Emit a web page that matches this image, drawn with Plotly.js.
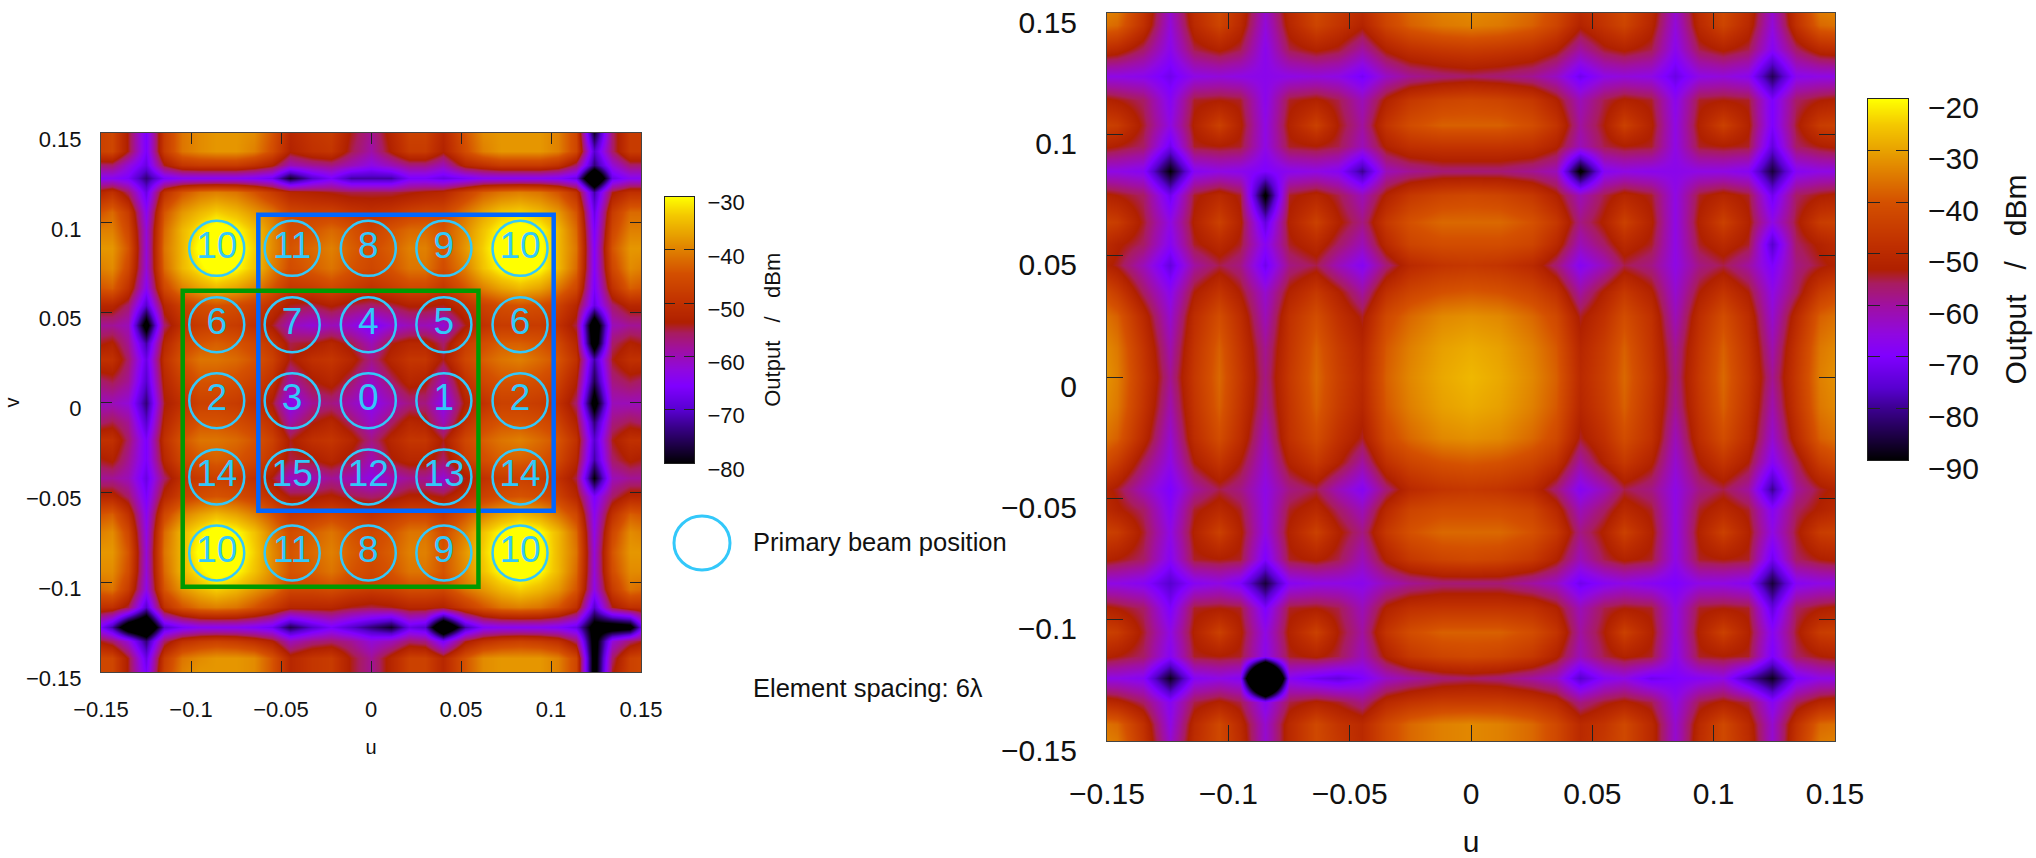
<!DOCTYPE html>
<html><head><meta charset="utf-8">
<script src="https://cdn.plot.ly/plotly-3.0.1.min.js"></script>
<style>html,body{margin:0;padding:0;background:#fff}#c{width:2036px;height:858px}</style>
</head><body><div id="c"></div>
<script>
const leftU=[-.15,-.144,-.135,-.125,-.115,-.105,-.095,-.086,-.075,-.065,-.055,-.045,-.033,-.022,-.011,0,.011,.021,.03,.04,.052,.062,.072,.083,.094,.104,.114,.124,.134,.144,.15];
const leftV=[.15,.14,.132,.125,.117,.106,.096,.086,.075,.064,.054,.043,.033,.024,.012,0,-.011,-.021,-.032,-.042,-.052,-.062,-.072,-.083,-.094,-.104,-.114,-.125,-.133,-.142,-.15];
const leftZ=[
[-47,-46,-54,-66,-48,-41,-39,-38,-38,-39,-44,-52,-49,-48,-54,-58,-52,-47,-47,-52,-44,-39,-38,-38,-38,-40,-46,-78,-56,-48,-48],
[-47,-46,-54,-66,-48,-41,-39,-38,-38,-40,-45,-53,-50,-49,-55,-59,-53,-48,-48,-53,-45,-40,-38,-38,-38,-40,-46,-70,-56,-48,-48],
[-56,-56,-62,-68,-54,-49,-48,-48,-48,-50,-53,-60,-58,-57,-60,-63,-60,-57,-57,-60,-52,-50,-48,-48,-48,-50,-56,-74,-62,-56,-56],
[-64,-64,-66,-74,-66,-64,-64,-64,-64,-65,-67,-78,-70,-66,-72,-72,-72,-66,-66,-68,-66,-64,-64,-64,-64,-65,-68,-95,-68,-64,-64],
[-52,-50,-56,-68,-50,-44,-41,-40,-41,-44,-48,-52,-53,-54,-55,-55,-55,-54,-53,-52,-47,-43,-41,-40,-41,-44,-50,-72,-54,-50,-50],
[-44,-42,-48,-64,-44,-38,-35,-33,-35,-38,-41,-46,-47,-47,-49,-50,-49,-47,-46,-46,-41,-37,-34,-33,-35,-38,-44,-68,-48,-42,-42],
[-40,-40,-46,-62,-42,-35,-31,-28,-30,-34,-39,-45,-44,-42,-44,-47,-44,-42,-42,-44,-39,-34,-30,-28,-30,-35,-42,-66,-46,-40,-40],
[-38,-38,-44,-62,-41,-35,-29,-26,-28,-33,-39,-44,-42,-40,-43,-45,-43,-40,-40,-44,-38,-33,-28,-26,-29,-35,-41,-65,-44,-38,-38],
[-40,-39,-46,-62,-42,-35,-31,-28,-30,-34,-40,-45,-43,-41,-44,-46,-44,-41,-41,-45,-40,-34,-30,-28,-30,-35,-42,-65,-46,-39,-40],
[-44,-43,-50,-64,-46,-40,-37,-35,-37,-40,-44,-49,-48,-46,-48,-50,-48,-46,-46,-49,-44,-40,-37,-35,-37,-41,-46,-66,-50,-43,-44],
[-52,-52,-56,-70,-52,-47,-45,-44,-45,-47,-50,-54,-55,-53,-55,-56,-55,-53,-53,-54,-50,-47,-45,-44,-45,-47,-52,-68,-56,-52,-52],
[-58,-58,-60,-84,-56,-50,-48,-47,-48,-50,-54,-60,-62,-60,-62,-66,-62,-60,-60,-62,-54,-50,-48,-48,-48,-50,-55,-88,-60,-58,-58],
[-54,-53,-58,-72,-52,-46,-44,-43,-44,-46,-49,-55,-54,-52,-55,-60,-54,-52,-52,-56,-48,-45,-43,-43,-44,-46,-52,-86,-56,-53,-54],
[-50,-50,-56,-68,-50,-44,-41,-41,-42,-44,-47,-54,-50,-49,-52,-57,-52,-49,-49,-54,-46,-43,-41,-40,-42,-44,-50,-72,-54,-50,-50],
[-56,-55,-58,-70,-52,-47,-44,-44,-45,-47,-50,-59,-54,-52,-56,-61,-56,-52,-53,-60,-50,-46,-44,-44,-45,-47,-53,-76,-57,-55,-56],
[-60,-60,-62,-74,-54,-50,-47,-47,-48,-50,-54,-64,-58,-57,-60,-64,-60,-57,-57,-64,-53,-50,-47,-47,-48,-50,-56,-84,-60,-60,-60],
[-56,-55,-58,-70,-52,-47,-44,-44,-45,-47,-50,-59,-54,-52,-56,-61,-56,-52,-53,-60,-50,-46,-44,-44,-45,-47,-53,-74,-57,-55,-56],
[-50,-50,-56,-66,-50,-44,-41,-41,-42,-44,-47,-54,-50,-49,-52,-57,-52,-49,-49,-54,-46,-43,-41,-40,-42,-44,-50,-70,-54,-50,-50],
[-54,-53,-58,-66,-52,-46,-44,-43,-44,-46,-49,-55,-54,-52,-55,-60,-54,-52,-52,-56,-48,-45,-43,-43,-44,-46,-52,-72,-56,-53,-54],
[-58,-58,-60,-68,-56,-50,-48,-47,-48,-50,-54,-61,-60,-58,-60,-63,-60,-58,-58,-62,-54,-50,-48,-47,-48,-50,-55,-80,-60,-58,-58],
[-52,-52,-56,-66,-52,-47,-45,-44,-45,-47,-50,-54,-54,-53,-55,-56,-55,-53,-53,-54,-50,-47,-45,-44,-45,-47,-52,-66,-56,-52,-52],
[-44,-43,-50,-64,-46,-40,-37,-35,-37,-40,-44,-49,-48,-46,-48,-50,-48,-46,-46,-49,-44,-40,-37,-35,-37,-41,-46,-64,-50,-43,-44],
[-40,-39,-46,-63,-42,-35,-31,-28,-30,-34,-40,-45,-43,-41,-44,-46,-44,-41,-41,-45,-40,-34,-30,-28,-30,-35,-42,-63,-46,-39,-40],
[-38,-38,-44,-62,-41,-35,-29,-26,-28,-33,-39,-44,-42,-40,-43,-45,-43,-40,-40,-44,-38,-33,-28,-26,-29,-35,-41,-62,-44,-38,-38],
[-39,-39,-45,-62,-42,-35,-31,-28,-30,-34,-39,-44,-43,-41,-44,-46,-44,-41,-41,-44,-39,-34,-30,-28,-30,-35,-42,-62,-45,-39,-39],
[-42,-41,-48,-63,-44,-38,-35,-33,-35,-38,-41,-46,-46,-45,-47,-48,-47,-45,-45,-46,-41,-38,-35,-33,-35,-38,-44,-63,-48,-41,-42],
[-50,-50,-55,-70,-50,-44,-41,-40,-41,-44,-48,-52,-52,-52,-54,-55,-54,-52,-52,-53,-48,-44,-41,-40,-41,-44,-50,-70,-54,-50,-50],
[-66,-72,-88,-94,-70,-66,-64,-64,-64,-65,-67,-76,-70,-66,-70,-74,-78,-68,-70,-94,-72,-65,-64,-64,-64,-65,-68,-84,-86,-84,-68],
[-54,-56,-62,-74,-56,-50,-48,-47,-48,-50,-53,-60,-57,-56,-58,-62,-60,-56,-57,-66,-54,-50,-48,-47,-48,-50,-56,-84,-62,-56,-54],
[-46,-46,-54,-68,-48,-41,-39,-38,-38,-39,-44,-52,-49,-48,-54,-58,-52,-47,-47,-52,-44,-39,-38,-38,-38,-40,-46,-84,-56,-47,-46],
[-46,-46,-54,-66,-47,-40,-38,-38,-38,-39,-44,-52,-49,-48,-54,-58,-52,-47,-47,-52,-44,-39,-38,-38,-38,-40,-46,-84,-54,-47,-46]
];
const rightU=[-.15,-.146,-.135,-.124,-.114,-.104,-.095,-.085,-.075,-.064,-.055,-.045,-.035,-.025,-.012,0,.012,.025,.035,.045,.055,.063,.074,.084,.094,.104,.114,.124,.134,.144,.15];
const rightV=[.15,.145,.135,.124,.114,.104,.095,.085,.075,.064,.055,.046,.035,.025,.012,0,-.012,-.025,-.035,-.046,-.055,-.064,-.075,-.085,-.095,-.105,-.115,-.124,-.134,-.143,-.15];
const rightZ=[
[-34,-35,-47,-64,-49,-42,-49,-64,-50,-42,-46,-50,-42,-37,-34,-33,-34,-37,-42,-50,-46,-42,-50,-64,-49,-42,-49,-64,-47,-35,-34],
[-36,-37,-48,-65,-50,-43,-50,-65,-51,-43,-47,-52,-43,-38,-35,-34,-35,-38,-43,-52,-47,-43,-51,-65,-50,-43,-50,-65,-48,-37,-36],
[-49,-50,-56,-67,-55,-52,-55,-67,-55,-52,-54,-60,-52,-48,-46,-45,-46,-48,-52,-60,-54,-52,-55,-67,-55,-52,-55,-68,-56,-50,-49],
[-66,-66,-67,-72,-66,-65,-66,-67,-66,-65,-66,-71,-63,-59,-57,-56,-57,-59,-63,-72,-66,-65,-66,-73,-66,-65,-67,-84,-67,-66,-66],
[-52,-53,-56,-68,-54,-53,-54,-67,-54,-52,-55,-62,-52,-46,-43,-42,-43,-46,-52,-62,-55,-52,-54,-67,-54,-53,-54,-70,-56,-53,-52],
[-44,-45,-54,-66,-52,-44,-52,-66,-52,-44,-53,-60,-47,-41,-38,-38,-38,-41,-47,-60,-53,-44,-52,-66,-52,-44,-52,-70,-54,-45,-44],
[-52,-53,-56,-72,-54,-53,-54,-66,-54,-53,-55,-62,-52,-48,-47,-47,-47,-48,-52,-62,-55,-53,-54,-66,-54,-53,-54,-74,-56,-53,-52],
[-66,-66,-68,-90,-68,-66,-67,-70,-67,-66,-68,-80,-62,-59,-57,-57,-57,-59,-62,-92,-68,-66,-67,-67,-66,-66,-68,-86,-68,-66,-66],
[-52,-53,-56,-72,-54,-50,-54,-92,-54,-51,-55,-62,-52,-46,-43,-42,-43,-46,-52,-62,-55,-51,-54,-66,-54,-51,-54,-72,-56,-53,-52],
[-44,-45,-54,-66,-52,-44,-52,-74,-52,-44,-52,-58,-46,-40,-37,-37,-37,-40,-46,-58,-52,-44,-52,-66,-52,-44,-52,-66,-54,-45,-44],
[-50,-52,-56,-68,-54,-50,-54,-68,-54,-50,-56,-62,-50,-43,-41,-41,-41,-43,-50,-62,-56,-50,-54,-66,-54,-50,-54,-76,-56,-52,-50],
[-52,-54,-62,-74,-60,-55,-58,-72,-58,-55,-62,-68,-57,-50,-47,-46,-47,-50,-57,-68,-62,-55,-58,-66,-58,-55,-60,-70,-58,-54,-52],
[-42,-45,-56,-67,-53,-47,-53,-64,-52,-46,-52,-60,-48,-43,-40,-39,-40,-43,-48,-60,-52,-46,-52,-64,-53,-47,-53,-66,-56,-45,-42],
[-36,-38,-50,-64,-49,-41,-49,-62,-48,-41,-48,-54,-42,-37,-33,-32,-33,-37,-42,-54,-48,-41,-48,-62,-49,-41,-49,-64,-50,-38,-36],
[-33,-35,-47,-61,-47,-38,-47,-59,-47,-38,-45,-51,-39,-34,-30,-28.5,-30,-34,-39,-51,-45,-38,-47,-59,-47,-38,-47,-61,-47,-35,-33],
[-32,-34,-46,-59,-46,-37,-46,-58,-46,-37,-44,-50,-38,-33,-29,-27,-29,-33,-38,-50,-44,-37,-46,-58,-46,-37,-46,-59,-46,-34,-32],
[-33,-35,-47,-61,-47,-38,-47,-59,-47,-38,-45,-51,-39,-34,-30,-28.5,-30,-34,-39,-51,-45,-38,-47,-59,-47,-38,-47,-61,-47,-35,-33],
[-36,-38,-50,-64,-49,-41,-49,-62,-48,-41,-48,-54,-42,-37,-33,-32,-33,-37,-42,-54,-48,-41,-48,-62,-49,-41,-49,-64,-50,-38,-36],
[-42,-45,-56,-66,-53,-47,-53,-64,-52,-46,-52,-60,-48,-43,-40,-39,-40,-43,-48,-60,-52,-46,-52,-64,-53,-47,-53,-68,-56,-45,-42],
[-52,-54,-62,-70,-60,-55,-58,-66,-58,-55,-62,-68,-57,-50,-47,-46,-47,-50,-57,-68,-62,-55,-58,-66,-58,-55,-60,-80,-60,-54,-52],
[-50,-52,-56,-68,-54,-50,-54,-66,-54,-50,-56,-62,-50,-43,-41,-41,-41,-43,-50,-62,-56,-50,-54,-66,-54,-50,-54,-68,-56,-52,-50],
[-44,-45,-54,-66,-52,-44,-52,-66,-52,-44,-52,-58,-46,-40,-37,-37,-37,-40,-46,-58,-52,-44,-52,-66,-52,-44,-52,-66,-54,-45,-44],
[-52,-53,-56,-68,-54,-53,-54,-70,-54,-52,-55,-62,-52,-46,-43,-42,-43,-46,-52,-62,-55,-52,-54,-66,-54,-53,-54,-72,-56,-53,-52],
[-66,-66,-68,-76,-68,-66,-70,-86,-68,-66,-66,-67,-62,-59,-57,-57,-57,-60,-63,-72,-68,-66,-68,-70,-66,-66,-68,-86,-68,-66,-66],
[-52,-53,-56,-70,-54,-53,-54,-70,-54,-53,-55,-62,-52,-48,-47,-47,-47,-48,-52,-62,-55,-53,-54,-66,-54,-53,-54,-74,-56,-53,-52],
[-44,-45,-54,-66,-52,-44,-52,-66,-52,-44,-53,-60,-47,-41,-38,-38,-38,-41,-47,-60,-53,-44,-52,-66,-52,-44,-52,-68,-54,-45,-44],
[-52,-53,-56,-68,-54,-53,-54,-67,-54,-52,-55,-62,-52,-46,-43,-42,-43,-46,-52,-62,-55,-52,-54,-67,-54,-53,-54,-70,-56,-53,-52],
[-66,-66,-68,-88,-68,-66,-68,-160,-68,-72,-74,-70,-63,-60,-57,-56,-57,-60,-63,-76,-68,-66,-72,-70,-68,-66,-78,-88,-70,-66,-66],
[-50,-51,-56,-68,-55,-52,-55,-68,-55,-52,-54,-58,-50,-47,-45,-45,-45,-47,-50,-58,-54,-52,-55,-66,-55,-52,-55,-68,-56,-51,-50],
[-36,-37,-48,-66,-50,-42,-50,-64,-50,-42,-47,-50,-42,-37,-34,-33,-34,-37,-42,-50,-47,-42,-50,-64,-50,-42,-50,-64,-48,-37,-36],
[-34,-35,-47,-64,-49,-42,-49,-64,-50,-42,-46,-50,-42,-37,-34,-33,-34,-37,-42,-50,-46,-42,-50,-64,-49,-42,-49,-64,-47,-35,-34]
];
const beamU=[-.0857,-.0438,-.0015,.0405,.0828];
const beamV=[.0858,.0433,.001,-.0414,-.0837];
const beamLabels=[["10","11","8","9","10"],["6","7","4","5","6"],["2","3","0","1","2"],["14","15","12","13","14"],["10","11","8","9","10"]];
const blueBox=[-.0626,.1015,-.0603,.1045];
const greenBox=[-.1046,.0597,-.1026,.0622];
const axisTicks=[-.15,-.1,-.05,0,.05,.1,.15];
const leftLevels=[-80,-70,-60,-50,-40,-30];
const rightLevels=[-90,-80,-70,-60,-50,-40,-30,-20];
const cmap=[[0,'#000000'],[.143,'#3c0090'],[.2,'#5800d0'],[.29,'#8000ff'],[.35,'#9008e0'],[.43,'#a010a0'],[.49,'#a81c60'],[.53,'#b02000'],[.6,'#c03000'],[.714,'#d45000'],[.8,'#e08000'],[.857,'#e8a000'],[.93,'#f4c800'],[1,'#ffff00']];
const W=2036,H=858,FONT='"Liberation Sans", Arial, sans-serif',CYAN='#33c8fa';
const dx=(a,b)=>[a/W,b/W], dy=(t,b)=>[1-b/H,1-t/H];
const bx=[],by=[],bt=[];
beamV.forEach((v,r)=>beamU.forEach((u,c)=>{bx.push(u);by.push(v);bt.push(beamLabels[r][c]);}));
const ramp=l=>l.map(v=>[v,v]);
const traces=[
 {type:'heatmap',x:leftU,y:leftV,z:leftZ,zmin:-80,zmax:-30,zsmooth:'best',colorscale:cmap,showscale:false,xaxis:'x',yaxis:'y',hoverinfo:'skip'},
 {type:'scatter',mode:'markers+text',x:bx,y:by,text:bt,textposition:'middle center',textfont:{family:FONT,size:37,color:CYAN},marker:{symbol:'circle-open',size:55,color:CYAN,line:{width:2.5,color:CYAN}},xaxis:'x',yaxis:'y',hoverinfo:'skip',showlegend:false,cliponaxis:false},
 {type:'heatmap',x:rightU,y:rightV,z:rightZ,zmin:-90,zmax:-20,zsmooth:'best',colorscale:cmap,showscale:false,xaxis:'x2',yaxis:'y2',hoverinfo:'skip'},
 {type:'heatmap',x:[0,1],y:leftLevels,z:ramp(leftLevels),zmin:-80,zmax:-30,zsmooth:'best',colorscale:cmap,showscale:false,xaxis:'x3',yaxis:'y3',hoverinfo:'skip'},
 {type:'heatmap',x:[0,1],y:rightLevels,z:ramp(rightLevels),zmin:-90,zmax:-20,zsmooth:'best',colorscale:cmap,showscale:false,xaxis:'x4',yaxis:'y4',hoverinfo:'skip'}
];
const ax=(o)=>Object.assign({range:[-.15,.15],tickvals:axisTicks,ticktext:axisTicks.map(t=>String(t).replace('-','\u2212')),ticks:'inside',showline:true,mirror:'ticks',linecolor:'#444',linewidth:1,tickcolor:'#222',showgrid:false,zeroline:false,fixedrange:true,automargin:false,ticklabeloverflow:'allow'},o);
const box=(b,c)=>({type:'rect',xref:'x',yref:'y',x0:b[0],x1:b[1],y0:b[2],y1:b[3],line:{color:c,width:4.5}});
const bar=(o)=>Object.assign({showline:true,mirror:true,linecolor:'#222',linewidth:1,showgrid:false,zeroline:false,fixedrange:true,automargin:false},o);
const NB='\u00a0\u00a0\u00a0';
const layout={
 width:W,height:H,margin:{l:0,r:0,t:0,b:0},paper_bgcolor:'#fff',plot_bgcolor:'#fff',showlegend:false,font:{family:FONT,color:'#111'},
 xaxis:ax({domain:dx(101,641),anchor:'y',ticklen:11,tickfont:{size:22},ticklabelstandoff:18,title:{text:'u',font:{size:20},standoff:18}}),
 yaxis:ax({domain:dy(133,672),anchor:'x',ticklen:11,tickfont:{size:22},ticklabelstandoff:14,ticklabelshift:6,title:{text:'v',font:{size:20},standoff:0}}),
 xaxis2:ax({domain:dx(1107,1835),anchor:'y2',ticklen:16,tickfont:{size:30},ticklabelstandoff:26,title:{text:'u',font:{size:30},standoff:26}}),
 yaxis2:ax({domain:dy(13,741),anchor:'x2',ticklen:16,tickfont:{size:30},ticklabelstandoff:23,ticklabelshift:9}),
 xaxis3:bar({domain:dx(665,694),anchor:'y3',range:[0,1],showticklabels:false,ticks:''}),
 yaxis3:bar({domain:dy(196.5,463),anchor:'x3',side:'right',range:[-80,-30],tickvals:leftLevels,ticktext:leftLevels.map(v=>'\u2212'+Math.abs(v)),ticks:'inside',mirror:'ticks',ticklen:10,tickcolor:'#222',tickfont:{size:22},ticklabelstandoff:8,ticklabelshift:6,title:{text:'Output'+NB+'/'+NB+'dBm',font:{size:22},standoff:20}}),
 xaxis4:bar({domain:dx(1868,1908),anchor:'y4',range:[0,1],showticklabels:false,ticks:''}),
 yaxis4:bar({domain:dy(99,460),anchor:'x4',side:'right',range:[-90,-20],tickvals:rightLevels,ticktext:rightLevels.map(v=>'\u2212'+Math.abs(v)),ticks:'inside',mirror:'ticks',ticklen:12,tickcolor:'#222',tickfont:{size:30},ticklabelstandoff:13,ticklabelshift:8,title:{text:'Output'+NB+'/'+NB+'dBm',font:{size:30},standoff:27}}),
 shapes:[box(blueBox,'#0066ff'),box(greenBox,'#009900'),
  {type:'circle',xref:'paper',yref:'paper',x0:674/W,x1:730/W,y0:1-570/H,y1:1-516/H,line:{color:CYAN,width:3}}],
 annotations:[
  {xref:'paper',yref:'paper',x:751/W,y:1-542/H,xanchor:'left',yanchor:'middle',showarrow:false,text:'Primary beam position',font:{size:25.5,color:'#111'}},
  {xref:'paper',yref:'paper',x:751/W,y:1-688/H,xanchor:'left',yanchor:'middle',showarrow:false,text:'Element spacing: 6\u03bb',font:{size:25.5,color:'#111'}}
 ]
};
Plotly.newPlot('c',traces,layout,{staticPlot:true,displayModeBar:false});
</script>
</body></html>
